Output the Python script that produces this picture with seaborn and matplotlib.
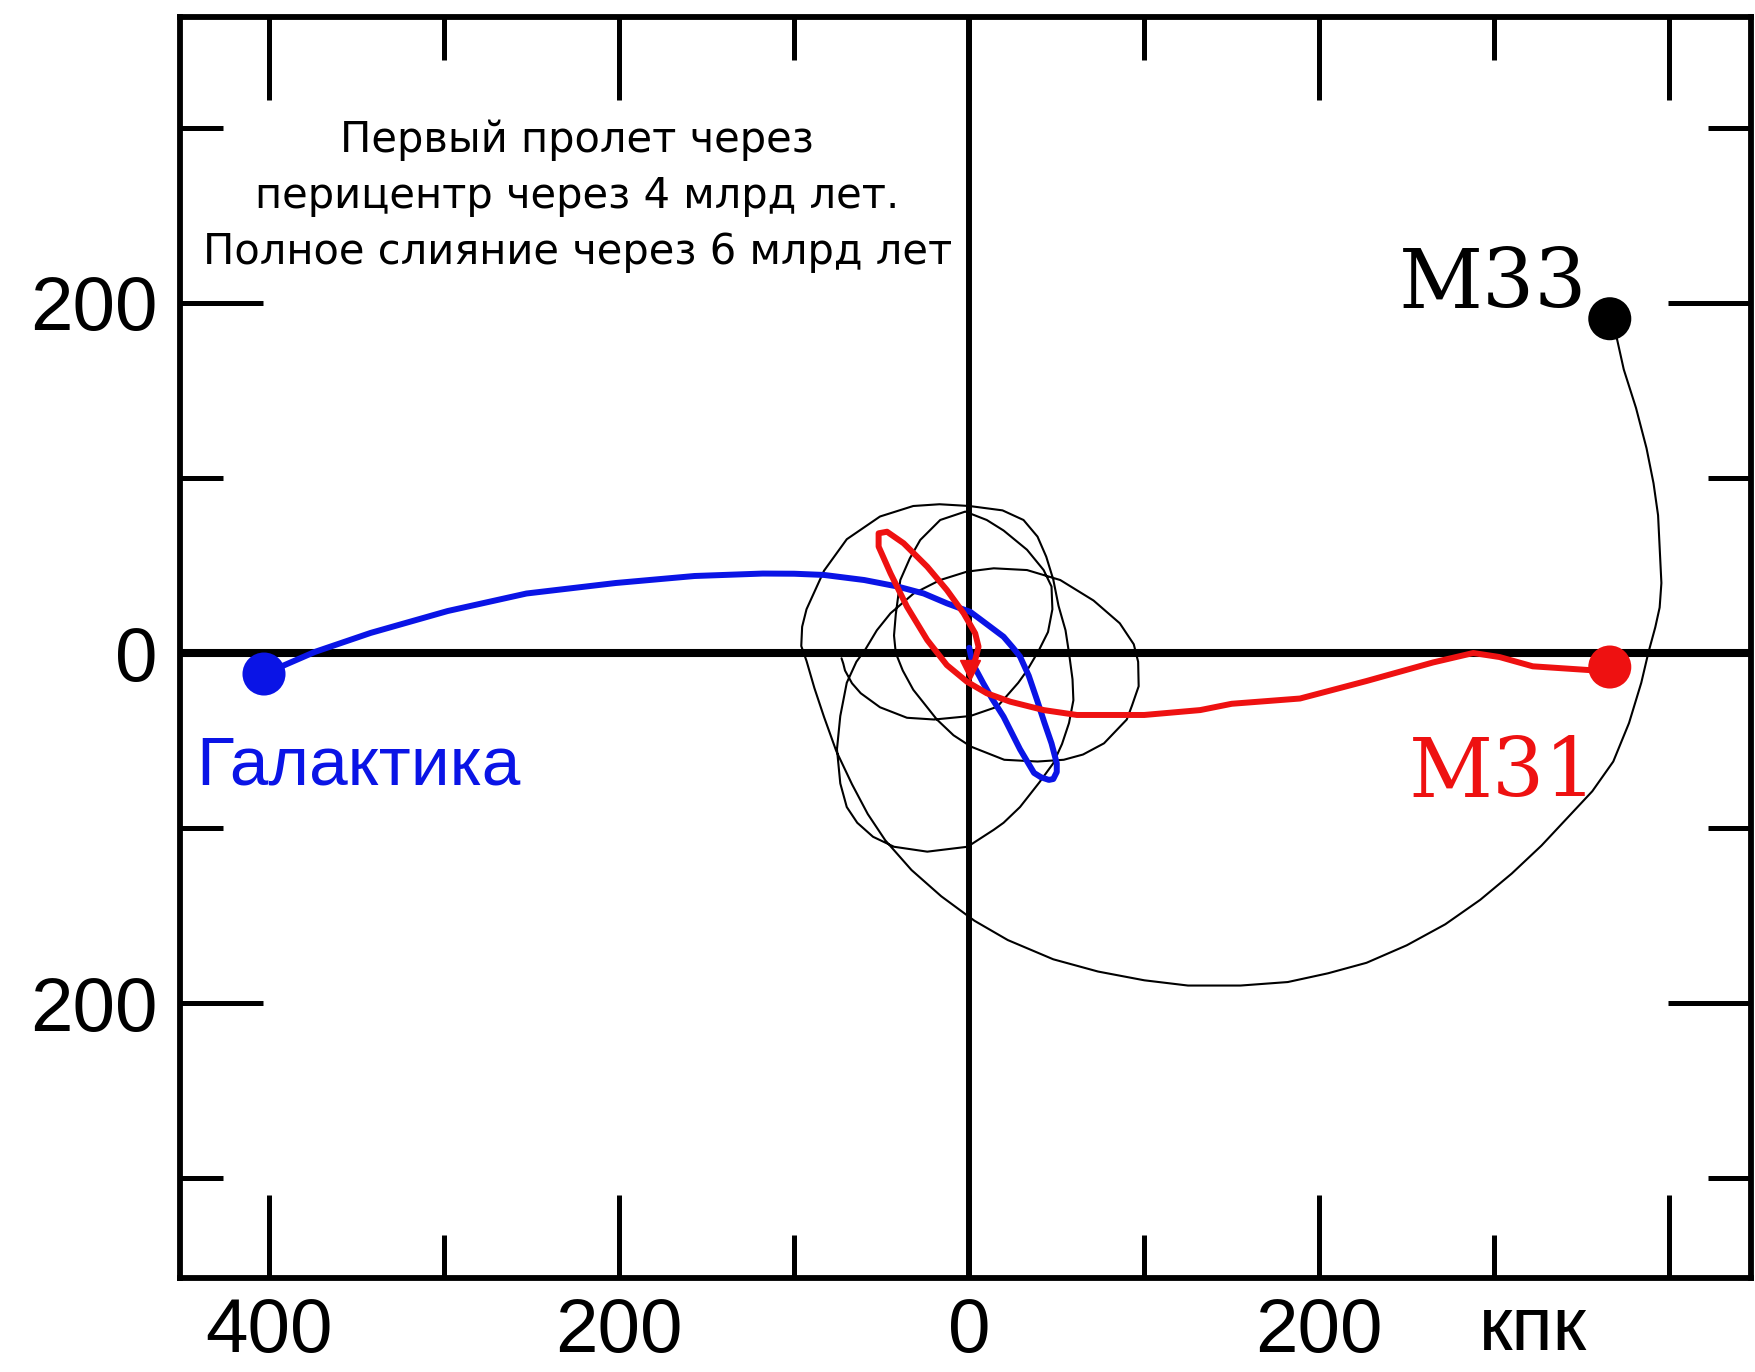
import matplotlib
matplotlib.use("Agg")
import matplotlib.pyplot as plt
import matplotlib.transforms as mtransforms
from matplotlib import font_manager
import seaborn as sns
import pandas as pd

# ---------------- data (kpc) ----------------
galaxy_x = [-403, -374, -342, -298, -253, -202, -157, -118, -100, -83, -60, -41, -26, -12.8, -5, 0.6,
            6, 12, 19.6, 25, 29, 34, 38.7, 43, 47, 50, 50, 48, 45.5, 41, 37, 29, 19.6, 13, 8, 3, 1, 0]
galaxy_y = [-12, 0.6, 11.5, 24, 34, 40, 44, 45.4, 45.3, 44.6, 41.7, 38, 34, 28.4, 25.5, 23.5,
            19.5, 15, 9.3, 3, -2, -13, -26.8, -40, -51.6, -63, -68, -72, -72.5, -71, -68.5, -55, -36.4, -26, -17.3, -8, -2, 3]

m31_x = [366, 355, 322, 303, 288, 265, 227, 189, 150, 132, 100, 61.5, 42.5, 23.4, 10, -1.3, -12.8, -24,
         -35.6, -45, -51.8, -51.8, -47, -37.5, -24, -12.8, -3.2, 3.4, 5.3, 3.4, 0.6]
m31_y = [-8, -9.8, -7.6, -2.3, 0, -5.4, -16, -26, -29, -32.6, -35.4, -35.4, -32.6, -27.8, -23, -16.4, -6.9, 7.4,
         26.5, 45.5, 60.8, 68.4, 69.3, 62.7, 49.3, 36, 22.7, 11.2, 3.6, -4, -9.7]

m33_x = [366, 370, 374, 381, 387, 391, 393.6, 395.5, 394.5, 392, 388, 384, 377, 368, 356, 342, 327, 310,
         292, 272, 250, 227, 205, 182, 155, 125, 100, 73.6, 48, 22, 3, -16, -33, -48, -58, -67, -76, -83,
         -88.5, -93, -96, -95.5, -93, -88, -83, -70, -51, -32,
         -17, 0, 19, 31, 39, 44, 48, 51, 55, 57, 59, 59.5, 57, 53, 48, 40, 29, 19.6, 14, -1, -24, -43,
         -55, -64, -70, -73.7, -75.6, -73.7, -70, -64.5, -59.4, -52.8, -45, -31.8, -16.6, -1.3, 14, 33,
         52, 71, 86, 94, 96.5, 96.8, 93, 90, 77, 65, 54, 39, 20, 1, -9, -18.5, -32, -38, -42, -43, -42,
         -39.4, -34, -28, -16.6, -2.3, 10, 19.6, 33, 42.5, 47, 47.5, 45, 40, 37.7, 33, 28, 16, 0.6, -20,
         -35.6, -51, -62, -67, -71, -72, -73]
m33_y = [191, 180, 162, 140, 117, 97, 78.7, 40, 26, 14.7, 0, -17, -40, -62, -79, -94, -110, -126,
         -141, -155, -167, -177, -183, -188, -190, -190, -187, -182, -175, -164, -153, -139, -124, -107, -92, -75, -56, -36.5,
         -20, -4.5, 4, 15, 25, 36, 47, 65, 78, 84,
         85, 84, 81.5, 76, 66.5, 55, 42, 27, 13, 0, -15, -27, -40, -52, -63, -74, -88, -97, -101, -110.7, -113.5, -110.7,
         -105, -97, -88, -74.5, -55, -36, -17, -5, 2, 13, 22.7, 34, 41.7, 46.5, 48.4, 47.4,
         41.7, 30, 17, 5, -5, -19, -30, -38, -51.6, -58, -61, -62, -61, -53.5, -47, -38, -21, -10, 0, 10, 22,
         41.7, 54, 64.6, 76, 80.8, 76, 70, 59, 47.4, 38, 25, 12, 2, -2, -10, -17, -30.7, -36, -38,
         -37, -31, -23, -17.3, -10, -6, -3]

start_names = ["Галактика", "M31", "M33"]
start_x = [-403, 366, 366]
start_y = [-12, -8, 191]

x_major = [-400, -200, 0, 200, 400]
x_major_labels = ["400", "200", "0", "200", ""]
x_minor = [-300, -100, 100, 300]
y_major = [-200, 0, 200]
y_major_labels = ["200", "0", "200"]
y_minor = [-300, -100, 100, 300]

unit_label = "кпк"
note = "Первый пролет через\nперицентр через 4 млрд лет.\nПолное слияние через 6 млрд лет"

# ---------------- style ----------------
sns.set_theme(style="white")
plt.rcParams["font.family"] = ["Liberation Sans", "DejaVu Sans"]
plt.rcParams["text.color"] = "black"

available = {f.name for f in font_manager.fontManager.ttflist}
if "Liberation Sans Narrow" in available:
    narrow_family, narrow_size = "Liberation Sans Narrow", 62
else:
    narrow_family, narrow_size = "Liberation Sans", 50

fig = plt.figure(figsize=(17.56, 13.72), dpi=100)
ax = fig.add_axes([180 / 1756, 1 - 1278 / 1372, (1751 - 180) / 1756, (1278 - 17) / 1372])
ax.set_xlim(-451, 446.7)
ax.set_ylim(-357.1, 363.4)

# axes through origin
ax.axhline(0, color="black", lw=5.8, zorder=1)
ax.axvline(0, color="black", lw=4.3, zorder=1)

df33 = pd.DataFrame({"x": m33_x, "y": m33_y})
dfg = pd.DataFrame({"x": galaxy_x, "y": galaxy_y})
df31 = pd.DataFrame({"x": m31_x, "y": m31_y})

sns.lineplot(data=df33, x="x", y="y", sort=False, estimator=None, color="black", lw=1.5, ax=ax, zorder=2)
sns.lineplot(data=dfg, x="x", y="y", sort=False, estimator=None, color="#0a14e6", lw=4.3, ax=ax, zorder=3)
sns.lineplot(data=df31, x="x", y="y", sort=False, estimator=None, color="#ee1111", lw=4.3, ax=ax, zorder=4)

ax.plot([m31_x[-1]], [m31_y[-1]], marker="v", ms=14, color="#ee1111", zorder=4)

dfs = pd.DataFrame({"x": start_x, "y": start_y, "name": start_names})
sns.scatterplot(data=dfs, x="x", y="y", hue="name",
                palette={"Галактика": "#0a14e6", "M31": "#ee1111", "M33": "black"},
                s=960, edgecolor="none", legend=False, ax=ax, zorder=5)

# labels
ax.text(-442, -75, "Галактика", color="#0a14e6", fontsize=narrow_size,
        family=[narrow_family, "DejaVu Sans"], ha="left", va="baseline")
ax.text(251, -82, "M31", color="#ee1111", fontsize=59, family="DejaVu Serif", ha="left", va="baseline")
ax.text(353, 197, "M33", color="black", fontsize=59, family="DejaVu Serif", ha="right", va="baseline")
ax.text(-224, 261, note, fontsize=30, family=["DejaVu Sans"], ha="center", va="center",
        multialignment="center", linespacing=1.42, color="black")

# ticks
ax.set_xticks(x_major)
ax.set_xticklabels(x_major_labels)
ax.set_xticks(x_minor, minor=True)
ax.set_yticks(y_major)
ax.set_yticklabels(y_major_labels)
ax.set_yticks(y_minor, minor=True)
ax.tick_params(which="both", direction="in", top=True, right=True, bottom=True, left=True,
               width=3.6, color="black", labelcolor="black")
ax.tick_params(which="major", length=60, labelsize=55)
ax.tick_params(which="minor", length=31)
ax.tick_params(axis="x", which="major", pad=14)
ax.tick_params(axis="y", which="major", pad=16)
ax.set_xlabel("")
ax.set_ylabel("")

trans = mtransforms.blended_transform_factory(ax.transData, ax.transAxes)
ax.text(322, -0.057, unit_label, transform=trans, fontsize=55, ha="center", va="baseline",
        color="black", clip_on=False)

for s in ax.spines.values():
    s.set_visible(True)
    s.set_linewidth(4.2)
    s.set_color("black")

fig.savefig("out.png", dpi=100, facecolor="white")
